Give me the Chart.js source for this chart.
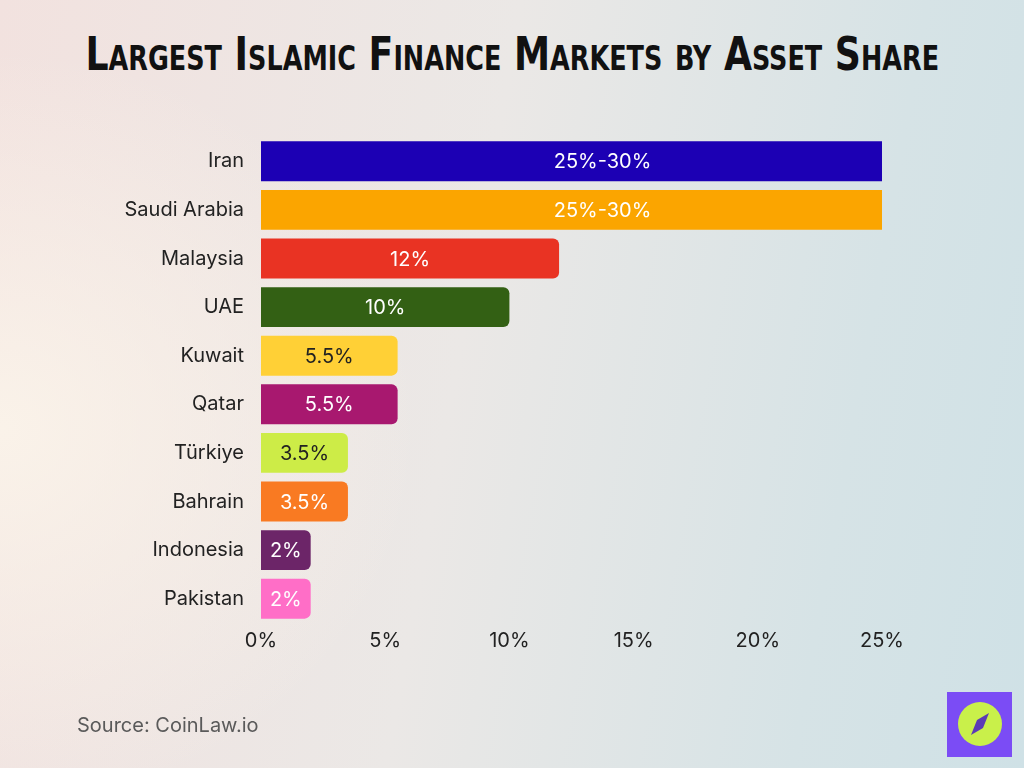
<!DOCTYPE html>
<html>
<head>
<meta charset="utf-8">
<script src="https://cdn.jsdelivr.net/npm/chart.js@4"></script>
<style>
  html, body { margin: 0; padding: 0; }
  body {
    width: 1024px; height: 768px; overflow: hidden; position: relative;
    background:
      radial-gradient(ellipse 420px 380px at 0px 430px, rgba(251,244,234,0.9), rgba(251,244,234,0) 100%),
      linear-gradient(100deg, #f2e2df 0%, #ebe8e6 45%, #d6e3e6 80%, #cfe1e6 100%);
  }
  #title {
    position: absolute; left: 0; top: 30px; width: 1024px; height: 50px;
    text-align: center; white-space: nowrap;
  }
  #title span {
    display: inline-block; transform-origin: center;
    font-family: "DejaVu Sans Condensed", "DejaVu Sans", sans-serif;
    font-weight: bold; font-variant: small-caps;
    font-size: 47px; line-height: 47px; color: #111;
  }
  #chart { position: absolute; left: 0; top: 0; }
  #source {
    position: absolute; left: 77px; top: 715px;
    font-family: Inter, sans-serif; font-size: 20px; line-height: 20px; color: #5a5a5a;
  }
  #logo { position: absolute; left: 947px; top: 692px; }
</style>
</head>
<body>
<div id="title"><span>Largest Islamic Finance Markets by Asset Share</span></div>
<canvas id="chart" width="1024" height="768"></canvas>
<div id="source">Source: CoinLaw.io</div>
<svg id="logo" width="65" height="65" viewBox="0 0 65 65">
  <rect width="65" height="65" fill="#7b4cf5"/>
  <circle cx="33" cy="32" r="22" fill="#c9f04a"/>
  <polygon points="42,21 36,36 24,43 30,28" fill="#5b3bb5"/>
</svg>
<script>
const categories = ["Iran", "Saudi Arabia", "Malaysia", "UAE", "Kuwait", "Qatar", "Türkiye", "Bahrain", "Indonesia", "Pakistan"];
const values = [27.5, 27.5, 12, 10, 5.5, 5.5, 3.5, 3.5, 2, 2];
const valueLabels = ["25%-30%", "25%-30%", "12%", "10%", "5.5%", "5.5%", "3.5%", "3.5%", "2%", "2%"];
const barColors = ["#1c00b4", "#fba500", "#e93323", "#336014", "#ffd036", "#a8186f", "#cdec47", "#f97a22", "#6c2568", "#ff6ec7"];
const labelColors = ["#fff", "#fff", "#fff", "#fff", "#222", "#fff", "#222", "#fff", "#fff", "#fff"];
const xMax = 25;
const xStep = 5;

// fit the title to the width of the original
const t = document.querySelector("#title span");
t.style.transform = "scaleX(" + (854 / t.offsetWidth) + ")";

const barText = {
  id: "barText",
  afterDatasetsDraw(chart) {
    const ctx = chart.ctx;
    const meta = chart.getDatasetMeta(0);
    ctx.save();
    ctx.font = "20px Inter, sans-serif";
    ctx.textAlign = "center";
    ctx.textBaseline = "middle";
    meta.data.forEach((bar, i) => {
      ctx.fillStyle = labelColors[i];
      ctx.fillText(valueLabels[i], (bar.base + bar.x) / 2, bar.y + 1);
    });
    ctx.restore();
  }
};

new Chart(document.getElementById("chart").getContext("2d"), {
  type: "bar",
  data: {
    labels: categories,
    datasets: [{
      data: values,
      backgroundColor: barColors,
      borderRadius: 6,
      borderSkipped: "start",
      barPercentage: 0.82,
      categoryPercentage: 1,
      clip: 0
    }]
  },
  options: {
    indexAxis: "y",
    responsive: false,
    animation: false,
    layout: { padding: { left: 0, right: 142, top: 137, bottom: 105 } },
    plugins: { legend: { display: false }, tooltip: { enabled: false } },
    scales: {
      x: {
        min: 0, max: xMax,
        grid: { display: false },
        border: { display: false },
        ticks: {
          stepSize: xStep, padding: -2, color: "#222",
          font: { family: "Inter", size: 20 },
          callback: v => v + "%"
        },
        afterFit(scale) { scale.height = 40; }
      },
      y: {
        grid: { display: false },
        border: { display: false },
        ticks: { padding: 9, color: "#222", font: { family: "Inter", size: 20 } },
        afterFit(scale) { scale.width = 261; }
      }
    }
  },
  plugins: [barText]
});
</script>
</body>
</html>
